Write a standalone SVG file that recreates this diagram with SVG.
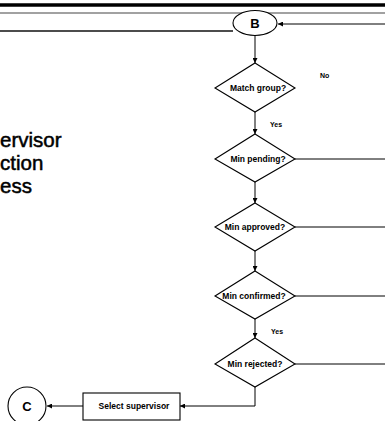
<svg xmlns="http://www.w3.org/2000/svg" width="385" height="421" viewBox="0 0 385 421">
<style>
.ln{stroke:#000;stroke-width:1;fill:none}
.shape{stroke:#000;stroke-width:1.1;fill:#fff}
.dt{font-family:"Liberation Sans",Arial,sans-serif;font-weight:bold;font-size:8.5px;fill:#000;text-anchor:middle}
.lbl{font-family:"Liberation Sans",Arial,sans-serif;font-weight:bold;font-size:7px;fill:#000}
.title{font-family:"Liberation Sans",Arial,sans-serif;font-size:20.5px;fill:#000;stroke:#000;stroke-width:0.5}
</style>
<defs>
<marker id="ah" viewBox="0 0 6 6" refX="6" refY="3" markerWidth="5" markerHeight="5" orient="auto">
<path d="M0,0 L6,3 L0,6 Z" fill="#000"/>
</marker>
</defs>
<rect width="385" height="421" fill="#fff"/>
<g id="header">
<line x1="0" y1="5" x2="385" y2="5" stroke="#000" stroke-width="3.5"/>
<line x1="0" y1="13" x2="385" y2="13" stroke="#444" stroke-width="1.2"/>
<line x1="0" y1="31" x2="233" y2="31" stroke="#111" stroke-width="1.5"/>
</g>
<g id="title">
<text class="title" x="0" y="147">ervisor</text>
<text class="title" x="0" y="170">ction</text>
<text class="title" x="0" y="193">ess</text>
</g>
<g id="connectors">
<line class="ln" x1="385" y1="24" x2="278" y2="24" marker-end="url(#ah)"/>
<line class="ln" x1="255" y1="36" x2="255" y2="63" marker-end="url(#ah)"/>
<line class="ln" x1="255" y1="112" x2="255" y2="134" marker-end="url(#ah)"/>
<line class="ln" x1="255" y1="182" x2="255" y2="203" marker-end="url(#ah)"/>
<line class="ln" x1="255" y1="251" x2="255" y2="271" marker-end="url(#ah)"/>
<line class="ln" x1="255" y1="319" x2="255" y2="338" marker-end="url(#ah)"/>
<polyline class="ln" points="255,387 255,406 180,406" marker-end="url(#ah)"/>
<line class="ln" x1="83" y1="406" x2="47" y2="406" marker-end="url(#ah)"/>
<line class="ln" x1="295" y1="159" x2="385" y2="159"/>
<line class="ln" x1="295" y1="227" x2="385" y2="227"/>
<line class="ln" x1="295" y1="296" x2="385" y2="296"/>
<line class="ln" x1="295" y1="364" x2="385" y2="364"/>
<text class="lbl" x="320" y="78">No</text>
<text class="lbl" x="270" y="127">Yes</text>
<text class="lbl" x="271" y="334">Yes</text>
</g>
<g id="B">
<ellipse class="shape" cx="255" cy="23" rx="22" ry="12.5"/>
<text x="255" y="28" font-family="Liberation Sans,Arial,sans-serif" font-weight="bold" font-size="13" text-anchor="middle">B</text>
</g>
<g id="match-group">
<polygon class="shape" points="255,63 295,88 255,112 215,88"/>
<text class="dt" x="258" y="91">Match group?</text>
</g>
<g id="min-pending">
<polygon class="shape" points="255,134 295,159 255,182 215,159"/>
<text class="dt" x="258" y="162">Min pending?</text>
</g>
<g id="min-approved">
<polygon class="shape" points="255,203 295,227 255,251 215,227"/>
<text class="dt" x="255" y="230">Min approved?</text>
</g>
<g id="min-confirmed">
<polygon class="shape" points="255,271 295,296 255,319 215,296"/>
<text class="dt" x="254" y="299">Min confirmed?</text>
</g>
<g id="min-rejected">
<polygon class="shape" points="255,338 295,364 255,387 215,364"/>
<text class="dt" x="255" y="367">Min rejected?</text>
</g>
<g id="select-supervisor">
<rect class="shape" x="83" y="393" width="97" height="27"/>
<text class="dt" x="134" y="409">Select supervisor</text>
</g>
<g id="C">
<circle class="shape" cx="27" cy="406" r="19"/>
<text x="27" y="411" font-family="Liberation Sans,Arial,sans-serif" font-weight="bold" font-size="13" text-anchor="middle">C</text>
</g>
</svg>
